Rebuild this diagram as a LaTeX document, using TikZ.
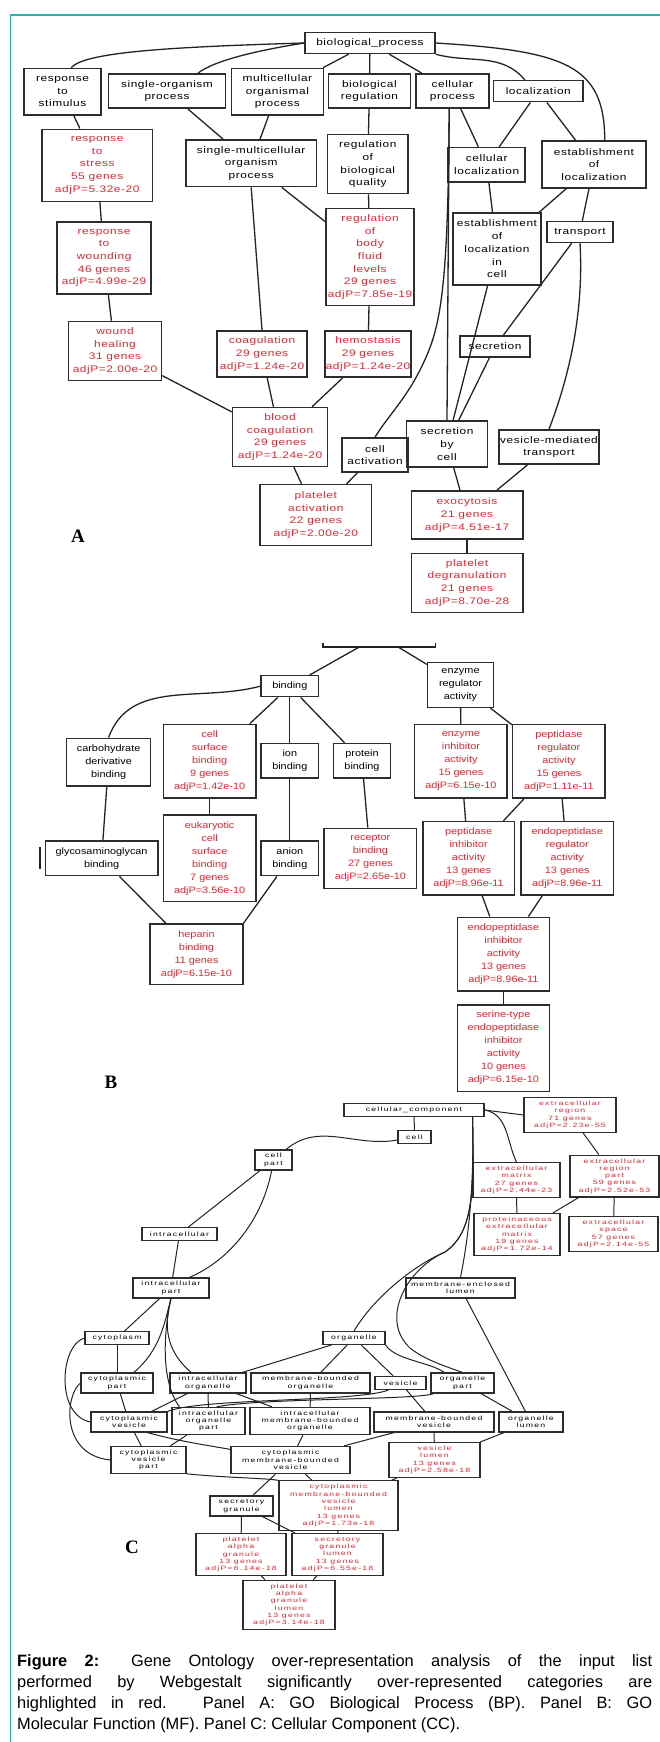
\documentclass[tikz,border=0pt]{standalone}
\usepackage{fontspec}
\setmainfont{Liberation Sans}
\newfontfamily\goA{Liberation Sans}[FakeStretch=1.25,LetterSpace=6]
\newfontfamily\goB{Liberation Sans}[FakeStretch=1.17]
\newfontfamily\goC{Liberation Sans}[FakeStretch=1.4,LetterSpace=20]
\newfontfamily\panelfont{Liberation Serif}
\usepackage{tikz}
\usetikzlibrary{positioning,calc}
\definecolor{sigred}{RGB}{226,38,48}
\definecolor{boxline}{RGB}{45,45,45}
\definecolor{linkgray}{RGB}{35,35,35}
\definecolor{frameteal}{RGB}{40,180,165}
\tikzset{
    abox/.style={rectangle,draw=boxline,line width=1.5pt,inner sep=0pt,align=center,font=\goA\fontsize{9.5}{12.7}\selectfont},
    bbox/.style={rectangle,draw=boxline,line width=1.5pt,inner sep=0pt,align=center,font=\goB\fontsize{9.3}{13}\selectfont},
    cbox/.style={rectangle,draw=boxline,line width=1.1pt,inner sep=0pt,align=center,font=\goC\fontsize{6.2}{7.3}\selectfont},
    hit/.style={text=sigred},
    lnk/.style={draw=linkgray,line width=1.3pt},
    clnk/.style={draw=linkgray,line width=1pt},
    panel/.style={font=\panelfont\bfseries\fontsize{19}{19}\selectfont},
    capline/.style={anchor=base west,inner sep=0pt,font=\fontsize{16.4}{21}\selectfont},
}

\begin{document}
\begin{tikzpicture}[x=1pt,y=-1pt]
\useasboundingbox (0,0) rectangle (660,1742);
\draw[frameteal,line width=1.2pt] (10.5,1742) -- (10.5,15) -- (660,15);

% panel A: biological process
\node[abox,minimum width=130,minimum height=21] (bp) at (370,43) {biological\_process};
\node[abox,minimum width=77,minimum height=46.7] (rts) at (62.5,91.7) {response\\to\\stimulus};
\node[abox,minimum width=116.6,minimum height=34.3] (sop) at (167,91) {single-organism\\process};
\node[abox,minimum width=91.7,minimum height=46.7] (mop) at (277.4,91.7) {multicellular\\organismal\\process};
\node[abox,minimum width=82,minimum height=34.3] (breg) at (369.4,91) {biological\\regulation};
\node[abox,minimum width=73.2,minimum height=34.3] (cproc) at (452.4,91) {cellular\\process};
\node[abox,minimum width=89.3,minimum height=21] (loc) at (538.3,91.2) {localization};
\node[abox,hit,minimum width=110.4,minimum height=72] (rstress) at (97.2,165.3) {response\\to\\stress\\55 genes\\adjP=5.32e-20};
\node[abox,minimum width=130.5,minimum height=46.7] (smop) at (251.2,163.3) {single-multicellular\\organism\\process};
\node[abox,minimum width=80.8,minimum height=59] (rbq) at (367.8,164.2) {regulation\\of\\biological\\quality};
\node[abox,minimum width=77,minimum height=34.3] (cloc) at (486.7,164.7) {cellular\\localization};
\node[abox,minimum width=104,minimum height=46.7] (estloc) at (594,164.5) {establishment\\of\\localization};
\node[abox,hit,minimum width=94,minimum height=72] (rwound) at (104,258) {response\\to\\wounding\\46 genes\\adjP=4.99e-29};
\node[abox,hit,minimum width=88,minimum height=97] (rbfl) at (370,257) {regulation\\of\\body\\fluid\\levels\\29 genes\\adjP=7.85e-19};
\node[abox,minimum width=88,minimum height=72] (elic) at (497,249) {establishment\\of\\localization\\in\\cell};
\node[abox,minimum width=66,minimum height=21] (transport) at (580,232) {transport};
\node[abox,hit,minimum width=93,minimum height=59] (wheal) at (115,351) {wound\\healing\\31 genes\\adjP=2.00e-20};
\node[abox,hit,minimum width=90,minimum height=46.4] (coag) at (262,354) {coagulation\\29 genes\\adjP=1.24e-20};
\node[abox,hit,minimum width=86,minimum height=46.4] (hemo) at (368,354) {hemostasis\\29 genes\\adjP=1.24e-20};
\node[abox,minimum width=70,minimum height=21] (secr) at (495,346.5) {secretion};
\node[abox,hit,minimum width=95,minimum height=59] (bcoag) at (280,437) {blood\\coagulation\\29 genes\\adjP=1.24e-20};
\node[abox,minimum width=66,minimum height=34] (cact) at (375,455) {cell\\activation};
\node[abox,minimum width=81,minimum height=46.4] (sbc) at (447,444) {secretion\\by\\cell};
\node[abox,minimum width=100,minimum height=34] (vmt) at (549,447) {vesicle-mediated\\transport};
\node[abox,hit,minimum width=111.6,minimum height=61] (pact) at (315.8,515) {platelet\\activation\\22 genes\\adjP=2.00e-20};
\node[abox,hit,minimum width=111.5,minimum height=48.3] (exo) at (467,515) {exocytosis\\21 genes\\adjP=4.51e-17};
\node[abox,hit,minimum width=111.5,minimum height=59] (pdeg) at (467,582.8) {platelet\\degranulation\\21 genes\\adjP=8.70e-28};
\node[panel] (lblA) at (78,536.7) {A};

\draw[lnk] (bp.west) .. controls (170,47) and (85,52) .. (rts.70);
\draw[lnk] (bp.west) .. controls (260,50) and (215,60) .. (sop.30);
\draw[lnk] (bp) -- (mop);
\draw[lnk] (bp) -- (breg);
\draw[lnk] (bp) -- (cproc);
\draw[lnk] (bp.south east) to[out=-15,in=130] (loc.140);
\draw[lnk] (bp.east) .. controls +(130,8) and +(0,-75) .. (estloc.66);
\draw[lnk] (rts) -- (rstress);
\draw[lnk] (sop) -- (smop);
\draw[lnk] (mop) -- (smop);
\draw[lnk] (breg) -- (rbq);
\draw[lnk] (cproc) -- (cloc);
\draw[lnk] (loc) -- (cloc);
\draw[lnk] (loc) -- (estloc);
\draw[lnk] (rstress) -- (rwound);
\draw[lnk] (rwound) -- (wheal);
\draw[lnk] (smop.south) -- (coag.north);
\draw[lnk] (smop) -- (rbfl);
\draw[lnk] (rbq) -- (rbfl);
\draw[lnk] (rbfl) -- (hemo);
\draw[lnk] (wheal) -- (bcoag);
\draw[lnk] (coag) -- (bcoag);
\draw[lnk] (hemo) -- (bcoag);
\draw[lnk] (cproc.-100) -- (sbc.north);
\draw[lnk] (cproc.-100) .. controls (448,300) and (440,330) .. (420,370) .. controls (405,400) and (385,420) .. (cact.north);
\draw[lnk] (cloc) -- (elic);
\draw[lnk] (estloc) -- (elic);
\draw[lnk] (estloc) -- (transport);
\draw[lnk] (transport) -- (secr);
\draw[lnk] (transport.south) .. controls (585,330) and (560,400) .. (vmt.north);
\draw[lnk] (elic) -- (sbc);
\draw[lnk] (secr) -- (sbc);
\draw[lnk] (sbc) -- (exo);
\draw[lnk] (vmt) -- (exo);
\draw[lnk] (exo) -- (pdeg);
\draw[lnk] (cact) -- (pact);
\draw[lnk] (bcoag) -- (pact);

% panel B: molecular function
\node[minimum width=112.4,minimum height=4,inner sep=0pt] (mf) at (379.4,644.7) {};
\draw[lnk] (mf.north west) -- (mf.south west) -- (mf.south east) -- (mf.north east);
\coordinate (mfl) at (359.8,646.7);
\coordinate (mfr) at (397.7,646.7);
\node[bbox,minimum width=57.6,minimum height=21] (binding) at (289.8,686.2) {binding};
\node[bbox,minimum width=65.7,minimum height=45] (era) at (460.5,684.8) {enzyme\\regulator\\activity};
\node[bbox,minimum width=84.2,minimum height=47.5] (carb) at (108.6,762) {carbohydrate\\derivative\\binding};
\node[bbox,hit,minimum width=92.6,minimum height=73.5] (csb) at (209.6,761.3) {cell\\surface\\binding\\9 genes\\adjP=1.42e-10};
\node[bbox,minimum width=57.6,minimum height=34.5] (ionb) at (289.8,760.8) {ion\\binding};
\node[bbox,minimum width=57.3,minimum height=34.5] (protb) at (362,760.8) {protein\\binding};
\node[bbox,hit,minimum width=92.6,minimum height=73.5] (eia) at (460.9,761.3) {enzyme\\inhibitor\\activity\\15 genes\\adjP=6.15e-10};
\node[bbox,hit,minimum width=92.6,minimum height=73.5] (pra) at (558.9,761.3) {peptidase\\regulator\\activity\\15 genes\\adjP=1.11e-11};
\node[bbox,minimum width=112.4,minimum height=34.7] (gagb) at (101.6,858.3) {glycosaminoglycan\\binding};
\node[bbox,hit,minimum width=92.6,minimum height=86.7] (ecsb) at (209.6,858.3) {eukaryotic\\cell\\surface\\binding\\7 genes\\adjP=3.56e-10};
\node[bbox,minimum width=57.6,minimum height=34.7] (anb) at (289.8,858.3) {anion\\binding};
\node[bbox,hit,minimum width=92.6,minimum height=60] (recb) at (370.4,858.3) {receptor\\binding\\27 genes\\adjP=2.65e-10};
\node[bbox,hit,minimum width=91.3,minimum height=73.3] (pia) at (468.6,858.3) {peptidase\\inhibitor\\activity\\13 genes\\adjP=8.96e-11};
\node[bbox,hit,minimum width=92.6,minimum height=73.3] (epra) at (567.3,858.3) {endopeptidase\\regulator\\activity\\13 genes\\adjP=8.96e-11};
\node[bbox,hit,minimum width=92.6,minimum height=60.5] (hep) at (196.5,954.2) {heparin\\binding\\11 genes\\adjP=6.15e-10};
\node[bbox,hit,minimum width=91.7,minimum height=73.5] (epia) at (503.4,954) {endopeptidase\\inhibitor\\activity\\13 genes\\adjP=8.96e-11};
\node[bbox,hit,minimum width=91.7,minimum height=86.5] (sepia) at (503.4,1048) {serine-type\\endopeptidase\\inhibitor\\activity\\10 genes\\adjP=6.15e-10};
\node[panel] (lblB) at (111,1082) {B};

\draw[lnk] (mfl) -- (binding);
\draw[lnk] (mfr) -- (era);
\draw[lnk] ($(gagb.west)+(-4.7,-11)$) -- ($(gagb.west)+(-4.7,11)$);
\draw[lnk] (binding.west) to[out=195,in=70] (carb.north);
\draw[lnk] (binding) -- (csb);
\draw[lnk] (binding) -- (ionb);
\draw[lnk] (binding) -- (protb);
\draw[lnk] (era) -- (eia);
\draw[lnk] (era) -- (pra);
\draw[lnk] (carb) -- (gagb);
\draw[lnk] (csb) -- (ecsb);
\draw[lnk] (ionb) -- (anb);
\draw[lnk] (protb) -- (recb);
\draw[lnk] (eia) -- (pia);
\draw[lnk] (pra) -- (pia);
\draw[lnk] (pra) -- (epra);
\draw[lnk] (gagb) -- (hep);
\draw[lnk] (anb) -- (hep.north east);
\draw[lnk] (pia) -- (epia);
\draw[lnk] (epra) -- (epia);
\draw[lnk] (epia) -- (sepia);

% panel C: cellular component
\node[cbox,minimum width=140,minimum height=12.7] (ccomp) at (414,1110) {cellular\_component};
\node[cbox,minimum width=33,minimum height=12.7] (cell) at (414.5,1137) {cell};
\node[cbox,hit,minimum width=92,minimum height=34.6] (er) at (570,1115) {extracellular\\region\\71 genes\\adjP=2.23e-55};
\node[cbox,minimum width=37,minimum height=20] (cpart) at (273.5,1160) {cell\\part};
\node[cbox,hit,minimum width=87,minimum height=34.6] (em) at (516.5,1180) {extracellular\\matrix\\27 genes\\adjP=2.44e-23};
\node[cbox,hit,minimum width=89,minimum height=41.9] (erp) at (614.5,1176) {extracellular\\region\\part\\59 genes\\adjP=2.52e-53};
\node[cbox,hit,minimum width=86,minimum height=41.9] (pem) at (517,1234.5) {proteinaceous\\extracellular\\matrix\\19 genes\\adjP=1.72e-14};
\node[cbox,hit,minimum width=89,minimum height=34.6] (es) at (613.5,1234) {extracellular\\space\\57 genes\\adjP=2.14e-55};
\node[cbox,minimum width=75,minimum height=12.7] (icell) at (179.5,1234) {intracellular};
\node[cbox,minimum width=76,minimum height=20] (icpart) at (171,1288) {intracellular\\part};
\node[cbox,minimum width=109,minimum height=20] (mel) at (460.5,1288) {membrane-enclosed\\lumen};
\node[cbox,minimum width=64,minimum height=12.7] (cyto) at (117,1338) {cytoplasm};
\node[cbox,minimum width=62,minimum height=12.7] (org) at (354,1338) {organelle};
\node[cbox,minimum width=72,minimum height=20] (cytpart) at (117,1383) {cytoplasmic\\part};
\node[cbox,minimum width=76,minimum height=20] (icorg) at (208,1383) {intracellular\\organelle};
\node[cbox,minimum width=119,minimum height=20] (mbo) at (310.5,1383) {membrane-bounded\\organelle};
\node[cbox,minimum width=51,minimum height=12.7] (ves) at (400.5,1383) {vesicle};
\node[cbox,minimum width=63,minimum height=20] (orgpart) at (462.5,1383) {organelle\\part};
\node[cbox,minimum width=76,minimum height=20] (cytves) at (129,1422) {cytoplasmic\\vesicle};
\node[cbox,minimum width=73,minimum height=27.3] (icop) at (208.5,1421) {intracellular\\organelle\\part};
\node[cbox,minimum width=120,minimum height=27.3] (imbo) at (310,1421) {intracellular\\membrane-bounded\\organelle};
\node[cbox,minimum width=120,minimum height=20] (mbv) at (434,1422) {membrane-bounded\\vesicle};
\node[cbox,minimum width=64,minimum height=20] (orglum) at (531,1422) {organelle\\lumen};
\node[cbox,minimum width=75,minimum height=27.3] (cvp) at (148.5,1460) {cytoplasmic\\vesicle\\part};
\node[cbox,minimum width=119,minimum height=27.3] (cmbv) at (290.5,1460) {cytoplasmic\\membrane-bounded\\vesicle};
\node[cbox,hit,minimum width=91,minimum height=34.6] (veslum) at (434.5,1460) {vesicle\\lumen\\13 genes\\adjP=2.58e-18};
\node[cbox,minimum width=63,minimum height=20] (sgran) at (241.5,1506) {secretory\\granule};
\node[cbox,hit,minimum width=119,minimum height=49.2] (cmbvl) at (338.5,1505.5) {cytoplasmic\\membrane-bounded\\vesicle\\lumen\\13 genes\\adjP=1.73e-18};
\node[cbox,hit,minimum width=90,minimum height=41.9] (pag) at (241,1554.5) {platelet\\alpha\\granule\\13 genes\\adjP=6.14e-18};
\node[cbox,hit,minimum width=91,minimum height=41.9] (sgl) at (337.5,1554.5) {secretory\\granule\\lumen\\13 genes\\adjP=6.55e-18};
\node[cbox,hit,minimum width=92,minimum height=49.2] (pagl) at (289,1605) {platelet\\alpha\\granule\\lumen\\13 genes\\adjP=3.14e-18};
\node[panel] (lblC) at (132,1547) {C};
\coordinate (cctrunk) at ([xshift=-12pt]ccomp.south east);

\draw[clnk] (ccomp) -- (cell);
\draw[clnk] (ccomp.east) -- (er.west);
\draw[clnk] (ccomp.east) to[out=-10,in=115] (em.north);
\draw[clnk] (er) -- (erp);
\draw[clnk] (em) -- (pem);
\draw[clnk] (erp) -- (pem);
\draw[clnk] (erp) -- (es);
\draw[clnk] (cell) to[out=190,in=40] (cpart);
\draw[clnk] (cctrunk) .. controls (474,1180) and (470,1230) .. (mel.north);
\draw[clnk] (cctrunk) .. controls (474,1190) and (474,1232) .. (445,1252) .. controls (412,1266) and (372,1300) .. (org.north);
\draw[clnk] (cctrunk) .. controls (474,1190) and (474,1232) .. (445,1252) .. controls (405,1270) and (380,1320) .. (410,1348) .. controls (425,1360) and (445,1366) .. (orgpart.north);
\draw[clnk] (cpart) -- (icell);
\draw[clnk] (cpart.-100) .. controls (262,1220) and (230,1260) .. (icpart.30);
\draw[clnk] (icell) -- (icpart);
\draw[clnk] (icpart) -- (cyto);
\draw[clnk] (icpart.south) .. controls (164,1325) and (160,1350) .. (cytpart.32);
\draw[clnk] (icpart.south) .. controls (164,1325) and (165,1350) .. (icorg.148);
\draw[clnk] (icpart.south) .. controls (164,1330) and (160,1380) .. (icop.154);
\draw[clnk] (cyto) -- (cytpart);
\draw[clnk] (cyto.west) .. controls (60,1345) and (55,1415) .. (cytves.west);
\draw[clnk] (cytpart.west) .. controls (65,1395) and (60,1455) .. (cvp.west);
\draw[clnk] (org) -- (icorg);
\draw[clnk] (org) -- (mbo);
\draw[clnk] (org) -- (ves);
\draw[clnk] (org.south east) .. controls (395,1360) and (430,1362) .. (orgpart.150);
\draw[clnk] (mel) -- (orglum);
\draw[clnk] (icorg) -- (icop);
\draw[clnk] (mbo) -- (imbo);
\draw[clnk] (icorg) -- (imbo);
\draw[clnk] (icorg.-153) -- (cytves.25);
\draw[clnk] (cytpart) -- (cytves);
\draw[clnk] (ves.-150) .. controls (360,1402) and (200,1398) .. (cytves.north east);
\draw[clnk] (orgpart.-160) .. controls (420,1400) and (260,1398) .. (icop.60);
\draw[clnk] (ves) -- (mbv);
\draw[clnk] (orgpart) -- (orglum);
\draw[clnk] (cytves) -- (cvp);
\draw[clnk] (icop) -- (cvp);
\draw[clnk] (cytves.-30) to[out=-15,in=170] (cmbv.170);
\draw[clnk] (imbo) -- (cmbv);
\draw[clnk] (mbv) -- (cmbv);
\draw[clnk] (mbv) -- (veslum);
\draw[clnk] (orglum) -- (veslum);
\draw[clnk] (cmbv) -- (sgran);
\draw[clnk] (cmbv) -- (cmbvl);
\draw[clnk] (veslum) -- (cmbvl);
\draw[clnk] (cvp.-20) .. controls (230,1478) and (265,1478) .. (cmbvl.north west);
\draw[clnk] (sgran) -- (pag);
\draw[clnk] (sgran) -- (sgl);
\draw[clnk] (cmbvl) -- (sgl);
\draw[clnk] (pag) -- (pagl);
\draw[clnk] (sgl) -- (pagl);

% caption
\node[capline] (cap1) at (17,1666) {\makebox[635pt][s]{\textbf{Figure 2:} Gene Ontology over-representation analysis of the input list}};
\node[capline] (cap2) at (17,1687) {\makebox[635pt][s]{performed by Webgestalt significantly over-represented categories are}};
\node[capline] (cap3) at (17,1708) {\makebox[635pt][s]{highlighted in red. Panel A: GO Biological Process (BP). Panel B: GO}};
\node[capline] (cap4) at (17,1729) {Molecular Function (MF). Panel C: Cellular Component (CC).};
\end{tikzpicture}
\end{document}
